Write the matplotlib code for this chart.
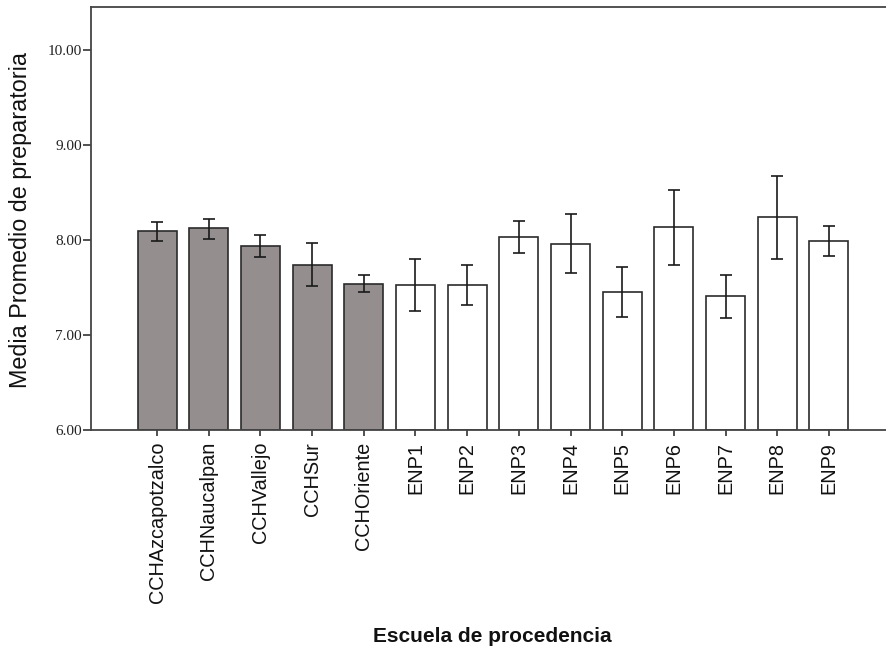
import numpy as np
import matplotlib.pyplot as plt

## data
escuelas = ['CCHAzcapotzalco', 'CCHNaucalpan', 'CCHVallejo', 'CCHSur', 'CCHOriente',
            'ENP1', 'ENP2', 'ENP3', 'ENP4', 'ENP5', 'ENP6', 'ENP7', 'ENP8', 'ENP9']
media = [8.09, 8.12, 7.94, 7.74, 7.54, 7.53, 7.53, 8.03, 7.96, 7.45, 8.14, 7.41, 8.24, 7.99]
ic_inf = [7.99, 8.01, 7.82, 7.52, 7.45, 7.25, 7.31, 7.86, 7.65, 7.19, 7.74, 7.18, 7.80, 7.83]
ic_sup = [8.19, 8.22, 8.05, 7.97, 7.63, 7.80, 7.74, 8.20, 8.27, 7.71, 8.53, 7.63, 8.67, 8.15]
tipo = ['CCH'] * 5 + ['ENP'] * 9
yticks = [6.0, 7.0, 8.0, 9.0, 10.0]

colores = {'CCH': '#948f8e', 'ENP': 'white'}

fig = plt.figure(figsize=(8.87, 6.48), dpi=100)
ax = fig.add_axes([91 / 887, 1 - 430 / 648, 804 / 887, 423 / 648])

x = np.arange(len(escuelas))
media = np.array(media)
err = [media - np.array(ic_inf), np.array(ic_sup) - media]

ax.bar(x, media - 6.0, bottom=6.0, width=0.75,
       color=[colores[t] for t in tipo], edgecolor='#2b2b2b', linewidth=1.2, zorder=2)
ax.errorbar(x, media, yerr=err, fmt='none', ecolor='#1a1a1a', elinewidth=1.2,
            capsize=4.5, capthick=1.2, zorder=3)

ax.set_xlim(-1.28, len(escuelas) - 1 + 1.28)
ax.set_ylim(6.0, 10.45)
ax.set_yticks(yticks)
ax.set_yticklabels(['%.2f' % v for v in yticks], fontfamily='Liberation Serif',
                   fontsize=11, color='#222222')
ax.set_xticks(x)
ax.set_xticklabels(escuelas, rotation=90, fontfamily='Liberation Sans', fontsize=14.3,
                   color='#111111')

ax.tick_params(axis='y', length=6, width=1.2, color='#333333', pad=0.5)
ax.tick_params(axis='x', length=4.5, width=1.2, color='#333333', pad=4)
for lado in ['left', 'top', 'bottom']:
    ax.spines[lado].set_color('#444444')
    ax.spines[lado].set_linewidth(1.3)
ax.spines['right'].set_visible(False)

fig.text(21 / 887, 1 - 220 / 648, 'Media Promedio de preparatoria', rotation=90,
         ha='center', va='center', fontfamily='Liberation Sans', fontsize=16.8, color='#111111')
fig.text(492 / 887, 1 - 636 / 648, 'Escuela de procedencia', ha='center', va='center',
         fontfamily=['Liberation Sans Narrow', 'Liberation Sans'], fontweight='bold',
         fontsize=15, color='#111111')

fig.savefig('out.png', dpi=100)
